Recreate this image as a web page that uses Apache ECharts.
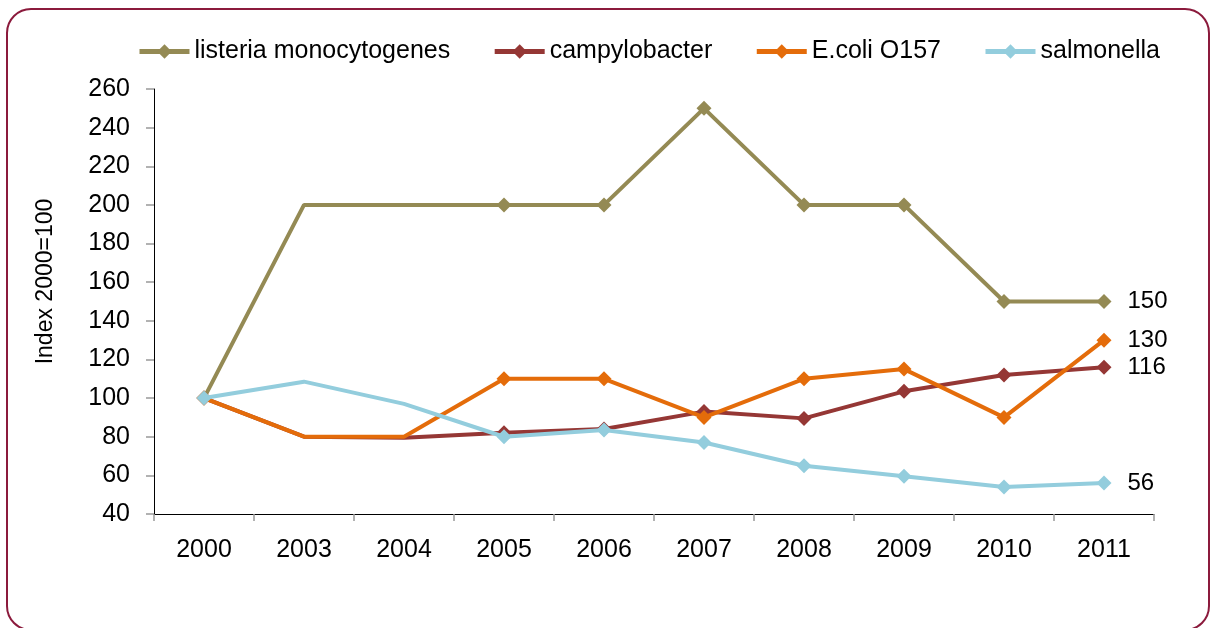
<!DOCTYPE html>
<html>
<head>
<meta charset="utf-8">
<script src="https://cdn.jsdelivr.net/npm/echarts@6/dist/echarts.min.js"></script>
<style>
  html, body { margin: 0; padding: 0; background: #fff; }
  #chart { width: 1210px; height: 628px; }
</style>
</head>
<body>
<div id="chart"></div>
<script>
// Years on the category axis
const years = ['2000', '2003', '2004', '2005', '2006', '2007', '2008', '2009', '2010', '2011'];
// Years plotted without a point marker
const plainYears = ['2003', '2004'];

// Index values (2000 = 100)
const listeria = [100, 200, 200, 200, 200, 250, 200, 200, 150, 150];
const campylobacter = [100, 80, 79.5, 82, 84, 93, 89.5, 103.5, 112, 116];
const ecoli = [100, 80, 80, 110, 110, 90, 110, 115, 90, 130];
const salmonella = [100, 108.5, 97, 80, 83.5, 77, 65, 59.5, 54, 56];

const seriesNames = ['listeria monocytogenes', 'campylobacter', 'E.coli O157', 'salmonella'];
const seriesValues = [listeria, campylobacter, ecoli, salmonella];
const seriesColors = ['#948A54', '#953735', '#E46C0A', '#93CDDD'];

const FONT = '"Liberation Sans", Arial, sans-serif';

function buildData(values) {
  return values.map((v, i) => {
    const item = { value: v };
    if (plainYears.indexOf(years[i]) >= 0) item.symbol = 'none';
    if (i === values.length - 1) {
      // value label at the end of each line
      item.label = {
        show: true,
        position: 'right',
        distance: 16,
        formatter: '{c}',
        color: '#000',
        fontSize: 24,
        fontFamily: FONT
      };
    }
    return item;
  });
}

const chart = echarts.init(document.getElementById('chart'), null, { renderer: 'canvas' });

chart.setOption({
  animation: false,
  backgroundColor: '#fff',
  graphic: [{
    type: 'rect',
    shape: { x: 7, y: 9, width: 1202, height: 621, r: 24 },
    style: { fill: 'none', stroke: '#8B1A3C', lineWidth: 2 },
    silent: true,
    z: -1
  }],
  legend: {
    top: 39,
    left: 137,
    padding: 0,
    itemWidth: 50,
    itemHeight: 18,
    itemGap: 42,
    lineStyle: { width: 5 },
    textStyle: { fontSize: 25, fontFamily: FONT, color: '#000' },
    data: seriesNames
  },
  grid: { left: 154, top: 89, right: 56, bottom: 114, containLabel: false },
  xAxis: {
    type: 'category',
    data: years,
    boundaryGap: true,
    axisLine: { lineStyle: { color: '#000', width: 1 } },
    axisTick: { show: true, length: 7, lineStyle: { color: '#999', width: 1.5 } },
    axisLabel: { color: '#000', fontSize: 25, fontFamily: FONT, margin: 24 },
    splitLine: { show: false }
  },
  yAxis: {
    type: 'value',
    min: 40,
    max: 260,
    interval: 20,
    name: 'Index 2000=100',
    nameLocation: 'middle',
    nameGap: 97,
    nameRotate: 90,
    nameTextStyle: { color: '#000', fontSize: 23, fontFamily: FONT, padding: [0, 0, 0, 40] },
    axisLine: { show: true, lineStyle: { color: '#000', width: 1 } },
    axisTick: { show: true, length: 8, lineStyle: { color: '#999', width: 1.5 } },
    axisLabel: { color: '#000', fontSize: 25, fontFamily: FONT, margin: 24 },
    splitLine: { show: false }
  },
  series: seriesNames.map((name, k) => ({
    name: name,
    type: 'line',
    data: buildData(seriesValues[k]),
    symbol: 'diamond',
    symbolSize: 15,
    showAllSymbol: true,
    color: seriesColors[k],
    lineStyle: { color: seriesColors[k], width: 4 },
    itemStyle: { color: seriesColors[k] },
    z: 2 + k
  }))
});
</script>
</body>
</html>
